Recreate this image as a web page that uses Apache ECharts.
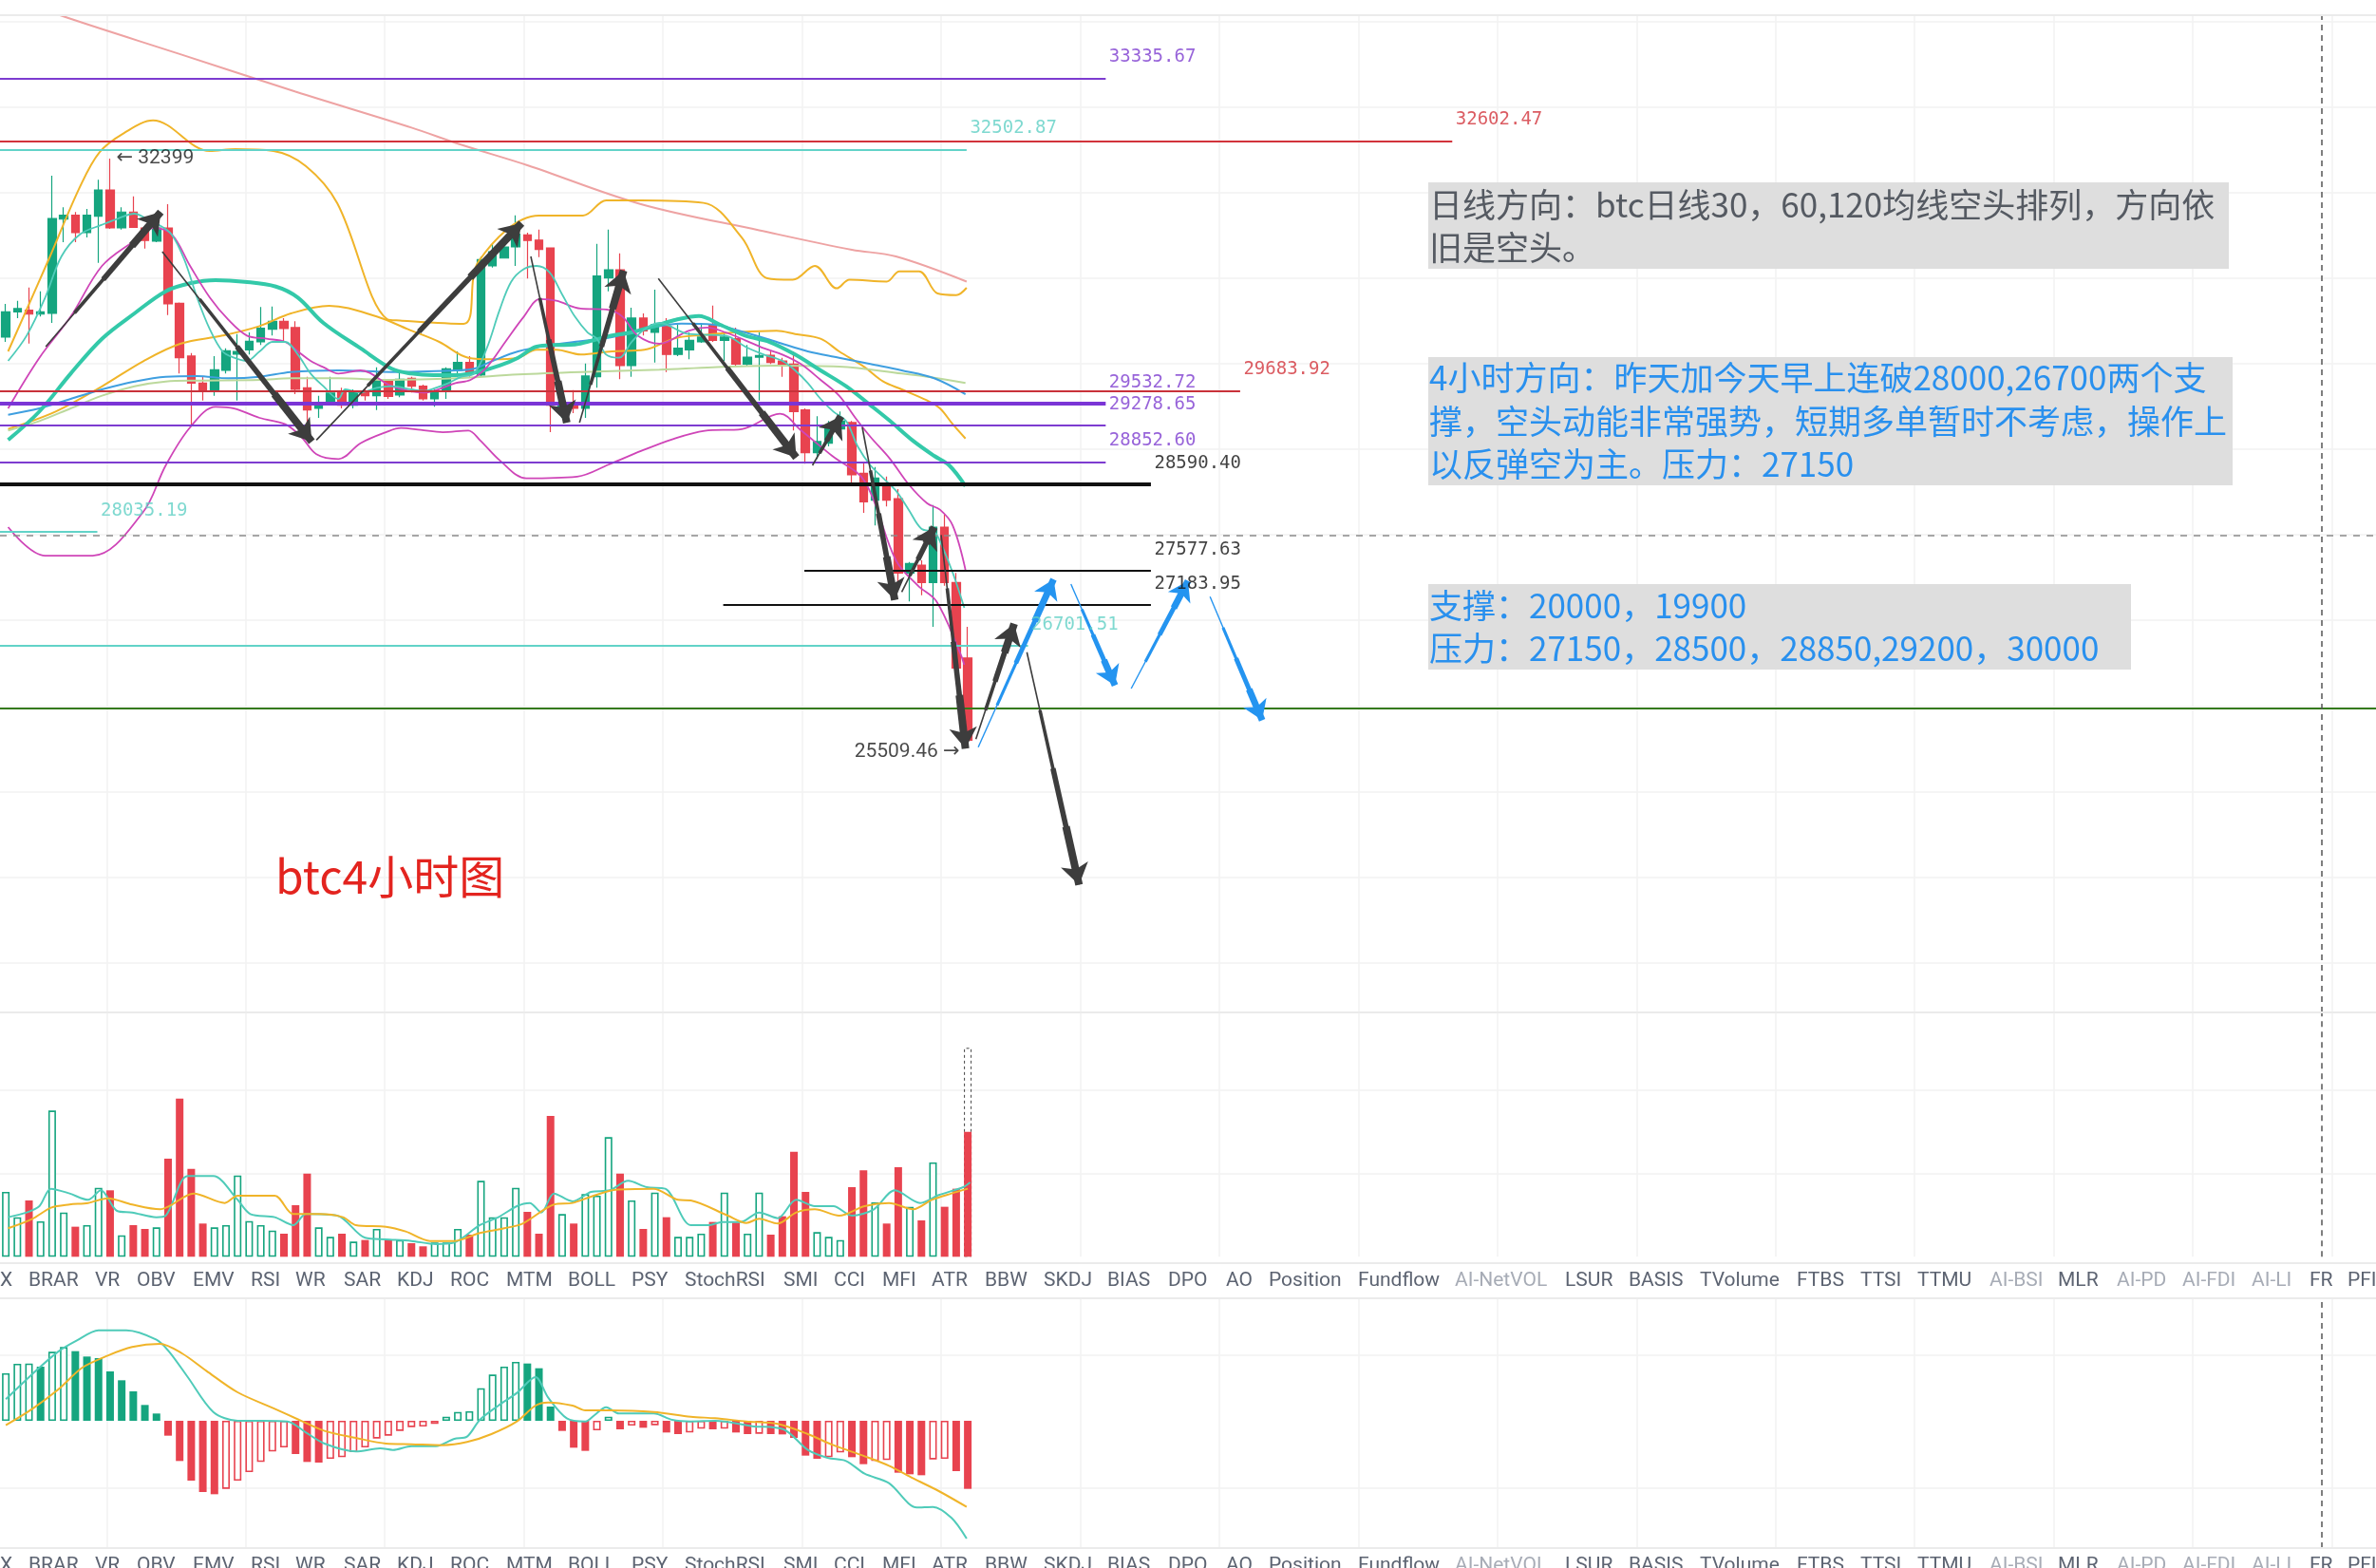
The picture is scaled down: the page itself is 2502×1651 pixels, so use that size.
<!DOCTYPE html>
<html>
<head>
<meta charset="utf-8">
<title>btc 4小时图</title>
<script src="https://cdn.jsdelivr.net/npm/echarts@6/dist/echarts.min.js"></script>
<style>
  html, body { margin: 0; padding: 0; background: #ffffff; }
  #chart { width: 2502px; height: 1651px; }
</style>
</head>
<body>
<div id="chart"></div>
<script>
// ---- 4h BTC candles: [open, close, low, high] ----
const candles = [
  [30311,30607,30255,30699],[30607,30644,30533,30736],[30625,30580,30236,30891],[30580,30607,30552,30847],
  [30588,31698,30477,32198],[31690,31735,31421,31828],[31735,31532,31421,31773],[31532,31735,31476,31809],
  [31724,32031,31180,32150],[32031,31587,31576,32399],[31587,31773,31568,31828],[31773,31595,31587,31957],
  [31587,31440,31346,31609],[31432,31587,31421,31606],[31587,30699,30569,31865],[30707,30070,29885,30715],
  [30089,29774,29275,30125],[29774,29681,29570,29848],[29681,29930,29626,30089],[29922,30152,29885,30181],
  [30111,30144,29570,30347],[30163,30263,30108,30366],[30255,30414,30218,30663],[30403,30496,30330,30669],
  [30496,30411,30255,30533],[30422,29700,29645,30496],[29719,29459,29237,29848],[29478,29534,29367,29626],
  [29534,29656,29515,29848],[29663,29515,29478,29719],[29515,29663,29478,29700],[29663,29626,29570,29700],
  [29626,29811,29459,29959],[29803,29619,29589,29811],[29634,29819,29608,29922],[29830,29737,29663,29848],
  [29737,29589,29570,29755],[29589,29663,29497,29700],[29681,29941,29589,29959],[29922,30014,29848,30144],
  [30014,29878,29848,30089],[29867,31218,29848,31254],[31143,31310,31124,31402],[31235,31365,31230,31402],
  [31365,31513,31143,31735],[31506,31440,30996,31532],[31446,31335,31246,31568],[31354,29515,29200,31360],
  [29456,29534,29367,29589],[29534,29478,29423,29692],[29478,29856,29367,30003],[29848,31025,29719,31402],
  [31002,31099,30847,31568],[31099,29978,29819,31291],[29978,30533,29848,30655],[30533,30385,30330,30588],
  [30366,30458,30014,30866],[30440,30108,29903,30533],[30108,30181,30089,30458],[30163,30274,30052,30366],
  [30255,30311,30244,30477],[30458,30274,30255,30680],[30274,30311,30033,30366],[30292,29996,29978,30422],
  [29996,30077,29978,30218],[30077,30096,29570,30366],[30100,30014,29996,30144],[30033,29996,29848,30070],
  [29996,29441,29219,30144],[29459,28960,28831,29478],[28960,29090,28886,29386],[29071,29256,29034,29330],
  [29237,29330,29219,29441],[29312,28701,28590,29330],[28720,28387,28257,28849],[28405,28664,28109,28793],
  [28571,28405,28331,28682],[28423,27554,27405,28534],[27554,27665,27221,27683],[27646,27443,27294,27702],
  [27443,28090,26925,28349],[28090,27443,27405,28238],[27443,26444,26406,27554],[26560,25600,25509.46,26925]
];

// ---- volume per candle, plus the projected volume of the running bar ----
const volumes = [
  2050,1250,1780,1120,4620,1400,950,1000,2180,2100,680,1000,880,930,3100,5000,
  2780,1050,930,1000,2570,1130,1000,830,730,1630,2630,930,630,730,480,530,
  880,530,530,430,330,450,450,880,700,2400,1250,1250,2180,1420,730,4450,
  1350,1050,1980,1930,3780,2630,1780,880,2030,1250,630,630,730,1100,2030,1080,
  730,2030,700,1280,3320,2050,780,630,530,2200,2730,1720,1050,2830,1580,1150,
  2980,1580,2150,3950
];
const projectedVolume = 6600;

// ---- MACD histogram per candle ----
const macdHist = [
  150,180,181,171,218,233,220,203,198,156,128,93,50,23,-47,-127,
  -189,-225,-232,-215,-189,-162,-130,-97,-84,-105,-130,-132,-120,-115,-99,-84,
  -56,-47,-32,-20,-18,-10,13,28,30,103,146,171,186,181,166,45,
  -32,-85,-95,-30,13,-27,-15,-22,-14,-37,-42,-37,-25,-27,-25,-37,
  -42,-41,-42,-43,-54,-110,-120,-115,-100,-115,-137,-127,-124,-164,-169,-172,
  -122,-120,-159,-215
];

// ---- indicator lines, sampled as [candle index, value] ----
const maLong = [[0.2,34290],[5.4,34040],[15,33620],[25,33180],[35,32760],[39.2,32564],[45,32320],[54.8,31865],[65,31560],[73,31332],[76.8,31254],[82.9,30960]];
const bandUpper = [[0.2,30144],[3.7,31218],[6.4,32068],[8.1,32475],[10.2,32697],[12.7,32844],[17.6,32487],[19.8,32509],[23.1,32487],[25.9,32309],[28.6,31876],[32.9,30522],[34,30505],[39.5,30466],[40.8,31199],[46,31732],[49.8,31732],[51.8,31910],[54.8,31910],[60.2,31880],[63.5,31476],[65.7,30999],[67.9,30981],[69.8,31143],[71.7,30881],[72.8,30981],[76,30961],[77.1,31080],[78.8,31080],[80.4,30821],[82,30802],[82.9,30888]];
const maOrange = [[0.2,29237],[4.3,29441],[8.3,29736],[11.9,30033],[15.1,30236],[18.7,30329],[21.9,30440],[24.6,30588],[27.9,30677],[32,30552],[34.7,30403],[37.4,30255],[39.9,30070],[42,30052],[44.2,30070],[45.8,30163],[47.5,30163],[49.6,30107],[52.3,30144],[55.1,30163],[57.8,30300],[60.2,30336],[62.9,30366],[66.5,30385],[68.1,30347],[70.3,30292],[71.9,30144],[74.1,29959],[75.7,29792],[77.3,29700],[79.5,29570],[80.6,29478],[81.7,29293],[82.8,29126]];
const ma30 = [[0.2,29109],[2.9,29442],[5.6,29885],[8.3,30292],[11.1,30588],[13.8,30847],[15.9,30940],[18.1,30977],[20.6,30958],[23.3,30902],[25.2,30773],[27.4,30477],[30.6,30181],[33.3,29941],[35,29885],[36.9,29866],[38.8,29866],[40.7,29903],[42.6,29978],[44.2,30070],[45.8,30200],[47.5,30218],[49.1,30225],[50.7,30274],[52.3,30330],[54,30366],[56.4,30458],[57.8,30514],[59.8,30558],[61.6,30458],[63.8,30329],[65.9,30255],[68.1,30107],[70.3,29922],[72.5,29737],[74.6,29515],[76.3,29330],[78.2,29108],[80.1,28923],[81.4,28812],[82.8,28570]];
const ma60 = [[0.2,29404],[2.9,29478],[5.6,29589],[8.3,29700],[11.1,29792],[13.8,29848],[16.5,29856],[19.2,29830],[21.9,29848],[24.6,29903],[28.7,29922],[33.3,29903],[38.8,29922],[40.4,29941],[42,30033],[44.2,30144],[46.9,30218],[49.6,30263],[52.3,30311],[55.1,30403],[58.3,30469],[61,30458],[63.8,30366],[66.5,30255],[69.2,30144],[71.9,30070],[74.6,29996],[77.3,29922],[80.1,29830],[82.8,29644]];
const ma120 = [[0.2,29219],[2.9,29330],[5.6,29478],[8.3,29626],[11.1,29737],[13.8,29792],[16.5,29803],[21.9,29811],[24.6,29830],[28.7,29830],[33.3,29811],[38.8,29830],[44.2,29874],[49.6,29903],[56.4,29930],[61,29959],[66.5,29978],[71.9,29966],[77.3,29885],[80.1,29836],[82.8,29774]];
const ma5 = [[0.2,30033],[1.8,30329],[3.4,30774],[4.8,31254],[6.4,31513],[8.3,31624],[9.7,31698],[11.1,31754],[12.1,31698],[13.2,31624],[14.3,31513],[15.4,31218],[16.5,30774],[17.6,30403],[18.7,30144],[19.7,30070],[20.8,30033],[21.9,30144],[23,30255],[24.1,30255],[25.2,30107],[26.3,29885],[27.4,29737],[28.7,29589],[29.3,29700],[30.6,29663],[32,29719],[33.3,29737],[35,29700],[36.1,29681],[37.1,29719],[38.2,29774],[39.3,29848],[40.4,29885],[41.5,30181],[42.6,30625],[43.6,30958],[44.7,31107],[45.8,31143],[46.9,31069],[48,30810],[49.1,30551],[50.2,30366],[51,30292],[51.8,30107],[52.9,30070],[54,30255],[55.1,30403],[56.4,30477],[58.9,30347],[62.1,30329],[63.8,30200],[65.4,30107],[67,30033],[68.1,29922],[69.2,29774],[70.3,29589],[71.4,29441],[72.5,29330],[73.5,29034],[74.6,28812],[75.7,28664],[76.8,28516],[77.9,28294],[79,28071],[80.1,28035],[80.6,27924],[81.7,27558],[82.7,27147]];
const ma10 = [[0.2,29478],[2.9,30070],[5.6,30551],[8.3,31143],[11.1,31439],[12.7,31587],[14.3,31513],[15.9,31143],[17.6,30774],[19.2,30514],[20.8,30329],[22.5,30292],[24.1,30255],[25.2,30144],[26.3,30033],[27.4,29959],[28.7,29885],[30.6,29922],[33.3,29737],[36.1,29663],[38.8,29774],[40.1,29811],[41.5,29959],[43.1,30255],[44.7,30551],[46.1,30755],[47.5,30736],[49.6,30644],[51.8,30633],[53.2,30551],[54.5,30329],[56.4,30233],[58.9,30385],[60.5,30422],[62.1,30366],[63.8,30274],[65.4,30181],[67,30107],[68.6,29996],[70.3,29811],[71.9,29626],[73.3,29367],[74.6,29145],[76.3,28886],[77.9,28590],[79.5,28368],[80.6,28294],[81.7,28109],[82.8,27591]];
const bandLower = [[0.2,28090],[3.4,27757],[7.5,27757],[11.8,28257],[13.8,28812],[15.9,29256],[18.1,29497],[19.7,29478],[21.9,29367],[24.1,29293],[25.5,29145],[26.8,28942],[28.7,28886],[30.6,29071],[32.8,29200],[34.1,29248],[35.8,29226],[37.7,29200],[39.9,29219],[40.9,29108],[42.7,28860],[44.9,28661],[49.3,28681],[52,28820],[54.8,28979],[57.5,29117],[60.3,29216],[63.5,29236],[66.8,29415],[68.6,29223],[71.3,28923],[74.1,28627],[76.8,27702],[78.7,27406],[80.3,27221],[82.2,26666],[82.7,26481]];

const volMa5 = [[0.2,1250],[1.8,1400],[2.9,1600],[3.9,2150],[5.5,2000],[7.1,1800],[8.2,2100],[9.6,1450],[10.9,1400],[13,1250],[13.8,1300],[15.7,2550],[17.9,2550],[20,1800],[21.1,1350],[23.2,1250],[24.8,1000],[25.9,1350],[28.6,1300],[31,600],[32.8,550],[35,500],[37.1,400],[38.7,450],[40.9,1000],[42.5,1250],[44.1,1600],[45.2,1700],[46.2,1400],[47.3,2000],[48.9,1750],[50.5,2050],[52.1,2100],[53.7,2400],[55.3,2200],[56.9,2150],[59.1,1000],[60.7,1000],[61.8,1100],[63.4,1100],[65,1400],[66.6,1220],[68.2,1800],[69.8,1600],[71.4,1600],[73,1300],[74.9,1500],[76.7,2100],[78.9,1700],[80.5,1950],[82.6,2200],[83.2,2350]];
const volMa10 = [[0.2,900],[2.3,1200],[3.9,1550],[5.5,1650],[7.1,1700],[8.8,1850],[10.9,1650],[13.3,1500],[14.1,1600],[16.2,2000],[18.9,1700],[20,1930],[23.2,1930],[24.8,1350],[27,1350],[29.1,1250],[30.2,1000],[32.8,950],[34.5,800],[36.6,500],[38.7,500],[40.9,750],[43,900],[44.6,1050],[47.3,1650],[48.9,1700],[50.5,1900],[52.6,2120],[55.9,2150],[58,1800],[59.1,1780],[62.3,1300],[63.9,1070],[65,1200],[66.6,1050],[68.2,1400],[69.8,1500],[71.9,1300],[74.1,1600],[76.2,1700],[78.3,1500],[79.9,1800],[81.6,2000],[83,2150]];

const macdDif = [[0,68],[2.3,148],[4.5,218],[6.1,253],[8,286],[10.4,286],[13,256],[14.1,218],[15.7,138],[17.9,28],[20,0],[22.1,0],[24.3,-2],[25.9,-37],[27.5,-72],[30.2,-97],[32.3,-87],[33.4,-92],[35,-80],[37.1,-80],[38.7,-57],[39.8,-50],[40.9,3],[42.5,48],[44.1,88],[45.7,138],[46.8,73],[48.4,8],[50,-2],[50.8,18],[51.8,43],[52.9,23],[55.9,23],[57.5,3],[59.1,-2],[61.2,0],[64.4,-17],[67.1,-27],[69.2,-92],[70.9,-117],[72.5,-127],[74.1,-167],[76.2,-197],[78.6,-274],[80,-272],[81.6,-307],[82.9,-372]];
const macdDea = [[0,-14],[2.3,38],[4.5,98],[6.6,168],[8.8,206],[10.9,233],[13.3,243],[15.2,213],[17.3,158],[20,90],[23.2,38],[25.3,3],[27.5,-32],[30.2,-54],[32.8,-72],[35,-74],[37.7,-77],[39.8,-67],[41.9,-42],[44.1,-2],[45.7,48],[46.8,58],[48.9,48],[50,33],[52.1,33],[55.9,28],[59.1,13],[61.2,8],[63.9,-2],[66.6,-10],[69.2,-42],[71.4,-77],[74.1,-112],[76.2,-142],[78.3,-182],[80.5,-222],[82.9,-272]];

// ---- drawn price levels: [price, from index, to index] ----
const levelLines = [
  [33335.67, -0.5, 94.9], [32602.47, -0.5, 124.8], [32502.87, -0.5, 82.9],
  [29683.92, -0.5, 106.5], [29532.72, -0.5, 94.9], [29278.65, -0.5, 94.9],
  [28852.60, -0.5, 94.9], [28590.40, -0.5, 98.8], [28035.19, -0.5, 7.9],
  [27577.63, 68.9, 98.8], [27183.95, 61.9, 98.8], [26701.51, -0.5, 88.2],
  [25970, -0.5, 204.5]
];
const levelLabels = ['33335.67','32602.47','32502.87','29683.92','29532.72','29278.65','28852.60','28590.40','28035.19','27577.63','27183.95','26701.51',''];
const swingHigh = [9, 32399];
const swingLow = [83, 25509.46];
const crosshairPrice = 27990;
const crosshairIndex = 199.8;

// ---- drawn trend arrows: [from index, from price, to index, to price] ----
const darkArrows = [
  [3.45,30200,13.37,31773],[13.5,31310,26.4,29089],[26.8,29108,44.5,31643],
  [45.3,31254,48.4,29311],[49.5,29311,53.3,31088],[56.3,30995,68.2,28904],
  [69.6,28812,72.05,29386],[73.9,29256,76.7,27239],[77.3,27332,80.1,28090],
  [80.7,27998,82.8,25501],[83.7,25612,87,26961],[88.1,26628,92.6,23909]
];
const blueArrows = [
  [83.9,25518,90.4,27480],[91.9,27424,95.7,26240],[97.1,26203,102,27461],[103.9,27277,108.4,25834]
];

const indicatorTabs = ['X','BRAR','VR','OBV','EMV','RSI','WR','SAR','KDJ','ROC','MTM','BOLL','PSY','StochRSI','SMI','CCI','MFI','ATR','BBW','SKDJ','BIAS','DPO','AO','Position','Fundflow','AI-NetVOL','LSUR','BASIS','TVolume','FTBS','TTSI','TTMU','AI-BSI','MLR','AI-PD','AI-FDI','AI-LI','FR','PFI'];

// ---------------------------------------------------------------
const UP = '#15a57f', DOWN = '#e8434f';
const SLOTS = 205, SLOT_W = 12.27, GRID_LEFT = -8.4, GRID_W = SLOTS * SLOT_W;
const slots = Array.from({ length: SLOTS }, (_, i) => String(i));
const PRICE_MIN = 22417.8, PRICE_MAX = 34073.9;

const levelStyles = [
  { color: '#7d3cd0', width: 2 }, { color: '#d2333b', width: 2 }, { color: '#62d3c8', width: 2 },
  { color: '#c9323a', width: 2 }, { color: '#7b35d6', width: 4 }, { color: '#7d3cd0', width: 2 },
  { color: '#7d3cd0', width: 2 }, { color: '#111111', width: 4 }, { color: '#62d3c8', width: 2 },
  { color: '#111111', width: 2 }, { color: '#111111', width: 2 }, { color: '#62d3c8', width: 2 },
  { color: '#347a1c', width: 1.8 }
];
const labelColors = ['#7d3cd0','#d2333b','#5fcfc4','#d2333b','#7d3cd0','#7d3cd0','#7d3cd0','#111111','#5fcfc4','#111111','#111111','#5fcfc4',''];

const isUp = i => candles[i][1] >= candles[i][0];

function line(data, color, width, xi, yi, z, smooth) {
  return {
    type: 'line', xAxisIndex: xi, yAxisIndex: yi, data,
    symbol: 'none', showSymbol: false, smooth: smooth === undefined ? 0.35 : smooth,
    lineStyle: { color, width }, z, silent: true
  };
}

// straight segments in data space; 'lines' defaults to half opacity, so force it opaque
function segLines(items, xi, yi, z, style) {
  return {
    type: 'lines', coordinateSystem: 'cartesian2d', xAxisIndex: xi, yAxisIndex: yi,
    data: items, symbol: 'none', z, silent: true,
    lineStyle: Object.assign({ opacity: 1, curveness: 0 }, style || {})
  };
}

// faint grid lines in each pane
const gridKs = [];
for (let k = 8.7; k < SLOTS; k += 12) gridKs.push(k);
const priceGrid = [];
gridKs.forEach(k => priceGrid.push({ coords: [[k, PRICE_MIN], [k, PRICE_MAX]] }));
for (let p = 23000; p <= 34000; p += 1000) priceGrid.push({ coords: [[-0.5, p], [204.5, p]] });
const volGrid = gridKs.map(k => ({ coords: [[k, 0], [k, 7720]] }))
  .concat([2630, 5260].map(v => ({ coords: [[-0.5, v], [204.5, v]] })));
const macdGrid = gridKs.map(k => ({ coords: [[k, -402], [k, 387]] }))
  .concat([207, -213].map(v => ({ coords: [[-0.5, v], [204.5, v]] })));
const gridStyle = { color: '#f2f2f2', width: 1.5 };
const crossStyle = { color: '#555555', width: 1.5, type: [6, 5] };

// tapered arrows: a hairline shaft that thickens toward the head
function arrowParts(list, color, w) {
  const shafts = [], heads = [];
  list.forEach(([k1, p1, k2, p2]) => {
    const at = t => [k1 + (k2 - k1) * t, p1 + (p2 - p1) * t];
    shafts.push({ coords: [at(0), at(0.97)], lineStyle: { color, width: w * 0.2 } });
    shafts.push({ coords: [at(0.25), at(0.97)], lineStyle: { color, width: w * 0.45 } });
    shafts.push({ coords: [at(0.5), at(0.97)], lineStyle: { color, width: w * 0.7 } });
    heads.push({ coords: [at(0.75), [k2, p2]], lineStyle: { color, width: w } });
  });
  return { shafts, heads };
}
const darkA = arrowParts(darkArrows, '#3d3d3d', 8);
const blueA = arrowParts(blueArrows, '#2494f0', 7);

const series = [
  // price pane
  segLines(priceGrid, 1, 0, 1, gridStyle),
  line(maLong, '#eea3a3', 2, 1, 0, 3),
  line(bandUpper, '#f0b429', 2, 1, 0, 3),
  line(maOrange, '#f0b429', 2, 1, 0, 3),
  line(bandLower, '#cf45b8', 1.8, 1, 0, 3),
  line(ma120, '#bcd99c', 2, 1, 0, 3),
  line(ma60, '#3f9fe0', 2, 1, 0, 3),
  line(ma30, '#33c9a9', 4, 1, 0, 3),
  line(ma10, '#cf45b8', 1.8, 1, 0, 3),
  line(ma5, '#4fcbb9', 1.8, 1, 0, 3),
  {
    type: 'candlestick', xAxisIndex: 0, yAxisIndex: 0, data: candles, barWidth: 9, z: 2,
    itemStyle: { color: UP, color0: DOWN, borderColor: UP, borderColor0: DOWN, borderWidth: 1.2 }
  },
  segLines(levelLines.map(([p, a, b], i) => ({
    coords: [[a, p], [b, p]], lineStyle: { color: levelStyles[i].color, width: levelStyles[i].width }
  })), 1, 0, 4),
  segLines([{ coords: [[-0.5, crosshairPrice], [204.5, crosshairPrice]] }], 1, 0, 4,
    { color: '#8a8a8a', width: 1.5, type: [7, 7] }),
  segLines([{ coords: [[crosshairIndex, PRICE_MIN], [crosshairIndex, PRICE_MAX]] }], 1, 0, 4, crossStyle),
  {
    type: 'scatter', xAxisIndex: 1, yAxisIndex: 0, symbolSize: 1, z: 6, silent: true,
    itemStyle: { color: 'rgba(0,0,0,0)' },
    data: levelLines.map(([p, a, b], i) => ({
      value: [b, p],
      label: {
        show: levelLabels[i] !== '', formatter: levelLabels[i], position: 'right', distance: 3,
        offset: [0, -22], color: labelColors[i], fontFamily: 'DejaVu Sans Mono', fontSize: 19
      }
    })).concat([
      { value: swingHigh, label: { show: true, formatter: '← ' + swingHigh[1], position: 'right', distance: 6,
        color: '#1a1a1a', fontFamily: 'Roboto, "DejaVu Sans"', fontSize: 21 } },
      { value: swingLow, label: { show: true, formatter: swingLow[1].toFixed(2) + ' →', position: 'left', distance: 8,
        offset: [0, 4], color: '#1a1a1a', fontFamily: 'Roboto, "DejaVu Sans"', fontSize: 21 } }
    ])
  },
  segLines(darkA.shafts, 1, 0, 5),
  { ...segLines(darkA.heads, 1, 0, 5), symbol: ['none', 'arrow'], symbolSize: 22 },
  segLines(blueA.shafts, 1, 0, 5),
  { ...segLines(blueA.heads, 1, 0, 5), symbol: ['none', 'arrow'], symbolSize: 20 },

  // volume pane
  segLines(volGrid, 3, 1, 1, gridStyle),
  {
    type: 'bar', xAxisIndex: 2, yAxisIndex: 1, barWidth: 8, barGap: '-100%', z: 2,
    data: volumes.map((v, i) => i === volumes.length - 1 ? projectedVolume : null),
    itemStyle: { color: 'rgba(0,0,0,0)', borderColor: '#444444', borderWidth: 1, borderType: [3, 3] }
  },
  {
    type: 'bar', xAxisIndex: 2, yAxisIndex: 1, barWidth: 8, barGap: '-100%', z: 3,
    data: volumes.map((v, i) => ({
      value: v,
      itemStyle: isUp(i) ? { color: '#ffffff', borderColor: UP, borderWidth: 1.6 } : { color: DOWN }
    }))
  },
  line(volMa5, '#4fcbb9', 2, 3, 1, 4, 0.3),
  line(volMa10, '#f0b429', 2, 3, 1, 4, 0.3),
  segLines([{ coords: [[crosshairIndex, 0], [crosshairIndex, 7720]] }], 3, 1, 4, crossStyle),

  // MACD pane
  segLines(macdGrid, 5, 2, 1, gridStyle),
  {
    type: 'bar', xAxisIndex: 4, yAxisIndex: 2, barWidth: 8, z: 2,
    data: macdHist.map((v, i) => {
      const c = v >= 0 ? UP : DOWN;
      const rising = i === 0 || v >= macdHist[i - 1];
      return { value: v, itemStyle: rising ? { color: '#ffffff', borderColor: c, borderWidth: 1.6 } : { color: c } };
    })
  },
  line(macdDif, '#4fcbb9', 2, 5, 2, 4, 0.3),
  line(macdDea, '#f0b429', 2, 5, 2, 4, 0.3),
  segLines([{ coords: [[crosshairIndex, -402], [crosshairIndex, 387]] }], 5, 2, 4, crossStyle)
];

// page furniture: separators, indicator tab rows, notes
const tabX = [0,30,100,144,203,264,311,362,418,474,533,598,665,721,825,878,929,981,1037,1099,1166,1230,1291,1336,1430,1532,1648,1715,1790,1892,1959,2019,2095,2167,2229,2298,2371,2432,2472];
const dimTabs = new Set(['AI-NetVOL','AI-BSI','AI-PD','AI-FDI','AI-LI']);
const graphics = [];
[16, 1066, 1330, 1367, 1630].forEach(y => graphics.push({
  type: 'line', z: 30, shape: { x1: 0, y1: y, x2: 2502, y2: y }, style: { stroke: '#ebebeb', lineWidth: 2 }
}));
[1349, 1649].forEach(y => indicatorTabs.forEach((t, i) => graphics.push({
  type: 'text', z: 30, x: tabX[i], y,
  style: { text: t, font: '21px Roboto', fill: dimTabs.has(t) ? '#a7acb6' : '#5d6472', verticalAlign: 'middle' }
})));

const notes = [
  { box: [1504, 192, 843, 91], color: '#555a62', lines: ['日线方向：btc日线30，60,120均线空头排列，方向依', '旧是空头。'], ys: [216, 261] },
  { box: [1504, 376, 847, 135], color: '#2990ee', lines: ['4小时方向：昨天加今天早上连破28000,26700两个支', '撑，空头动能非常强势，短期多单暂时不考虑，操作上', '以反弹空为主。压力：27150'], ys: [398, 444, 489] },
  { box: [1504, 615, 740, 90], color: '#2990ee', lines: ['支撑：20000，19900', '压力：27150，28500，28850,29200，30000'], ys: [638, 683] }
];
notes.forEach(n => {
  graphics.push({ type: 'rect', z: 20, shape: { x: n.box[0], y: n.box[1], width: n.box[2], height: n.box[3] },
    style: { fill: '#dedede' } });
  n.lines.forEach((t, i) => graphics.push({
    type: 'text', z: 21, x: n.box[0] + 1, y: n.ys[i],
    style: { text: t, font: '35px "Noto Sans CJK SC"', fill: n.color, verticalAlign: 'middle' }
  }));
});
graphics.push({
  type: 'text', z: 21, x: 290, y: 923,
  style: { text: 'btc4小时图', font: '48px "Noto Sans CJK SC"', fill: '#e3241f', verticalAlign: 'middle' }
});

const hiddenCat = gi => ({ type: 'category', gridIndex: gi, data: slots, boundaryGap: true, show: false });
const hiddenVal = gi => ({ type: 'value', gridIndex: gi, min: -0.5, max: 204.5, show: false, splitLine: { show: false } });

const option = {
  animation: false,
  backgroundColor: '#ffffff',
  grid: [
    { left: GRID_LEFT, top: 16, width: GRID_W, height: 1050 },
    { left: GRID_LEFT, top: 1066, width: GRID_W, height: 257.3 },
    { left: GRID_LEFT, top: 1367, width: GRID_W, height: 263 }
  ],
  xAxis: [hiddenCat(0), hiddenVal(0), hiddenCat(1), hiddenVal(1), hiddenCat(2), hiddenVal(2)],
  yAxis: [
    { type: 'value', gridIndex: 0, min: PRICE_MIN, max: PRICE_MAX, show: false, splitLine: { show: false } },
    { type: 'value', gridIndex: 1, min: 0, max: 7720, show: false, splitLine: { show: false } },
    { type: 'value', gridIndex: 2, min: -402, max: 387, show: false, splitLine: { show: false } }
  ],
  series,
  graphic: graphics
};

const chart = echarts.init(document.getElementById('chart'), null, { renderer: 'canvas', width: 2502, height: 1651 });
chart.setOption(option);
</script>
</body>
</html>
